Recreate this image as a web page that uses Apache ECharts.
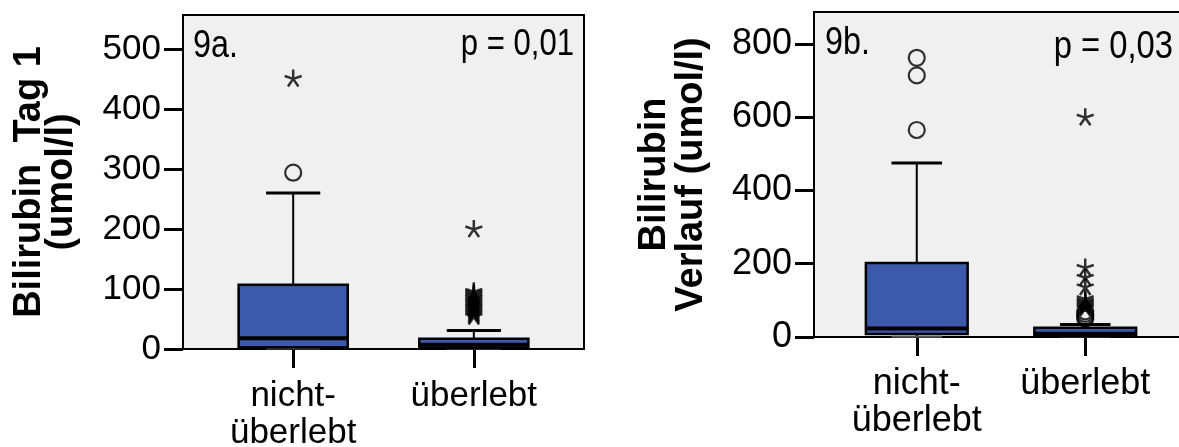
<!DOCTYPE html>
<html>
<head>
<meta charset="utf-8">
<script src="https://cdn.jsdelivr.net/npm/echarts@6/dist/echarts.min.js"></script>
<style>
html,body{margin:0;padding:0;background:#fff;}
#c{width:1179px;height:447px;}
</style>
</head>
<body>
<div id="c"></div>
<script>
// ---------- data ----------
const categories = ['nicht-\nüberlebt', 'überlebt'];
const yTicksA = [0, 100, 200, 300, 400, 500];
const yTicksB = [0, 200, 400, 600, 800];
// [category position, low whisker, q1, median, q3, high whisker]
const boxesA = [
  [1, 1, 3, 18, 107, 260],
  [2, 1, 2, 7, 17, 31]
];
const boxesB = [
  [1, 1, 8, 23, 202, 475],
  [2, 1, 2, 9, 25, 34]
];
const circlesA = [[1, 294]];
const starsA = [
  [1, 452], [2, 201],
  [2, 97], [2, 94], [2, 91], [2, 88], [2, 85], [2, 82], [2, 79], [2, 76],
  [2, 73], [2, 70], [2, 67], [2, 64], [2, 61], [2, 58], [2, 55]
];
const circlesB = [[1, 762], [1, 714], [1, 565], [2, 70], [2, 63], [2, 56], [2, 50]];
const starsB = [
  [2, 601], [2, 191], [2, 164], [2, 138],
  [2, 106], [2, 100], [2, 95], [2, 90], [2, 85], [2, 80]
];
const panelLabels = ['9a.', '9b.'];
const pValues = ['p = 0,01', 'p = 0,03'];
const yTitles = ['Bilirubin  Tag 1\n(umol/l)', 'Bilirubin\nVerlauf (umol/l)'];

// ---------- style ----------
const LAB = '"Liberation Sans", Arial, sans-serif';
const BLUE = '#3d59ab';
const BOX_W = 0.604;
const CAP_W = 0.30;
const STAR = 'path://M0,0L0,-1M0,0L0.951,-0.309M0,0L0.588,0.809M0,0L-0.588,0.809M0,0L-0.951,-0.309';

function renderBox(params, api) {
  const x = api.value(0);
  const pLow = api.coord([x, api.value(1)]);
  const pQ1 = api.coord([x, api.value(2)]);
  const pMed = api.coord([x, api.value(3)]);
  const pQ3 = api.coord([x, api.value(4)]);
  const pHigh = api.coord([x, api.value(5)]);
  const hb = api.size([BOX_W, 0])[0] / 2;
  const hc = api.size([CAP_W, 0])[0] / 2;
  const cx = pMed[0];
  const ls = {stroke: '#000', lineWidth: 2};
  return {
    type: 'group',
    children: [
      {type: 'line', shape: {x1: cx, y1: pQ3[1], x2: cx, y2: pHigh[1]}, style: ls},
      {type: 'line', shape: {x1: cx - hc, y1: pHigh[1], x2: cx + hc, y2: pHigh[1]}, style: {stroke: '#000', lineWidth: 3}},
      {type: 'line', shape: {x1: cx, y1: pQ1[1], x2: cx, y2: pLow[1]}, style: ls},
      {type: 'line', shape: {x1: cx - hc, y1: pLow[1], x2: cx + hc, y2: pLow[1]}, style: {stroke: '#555', lineWidth: 2}},
      {type: 'rect', shape: {x: cx - hb, y: pQ3[1], width: 2 * hb, height: pQ1[1] - pQ3[1]},
        style: {fill: BLUE, stroke: '#000', lineWidth: 2.5}},
      {type: 'line', shape: {x1: cx - hb, y1: pMed[1], x2: cx + hb, y2: pMed[1]}, style: {stroke: '#000', lineWidth: 4}}
    ]
  };
}

function yAxis(idx, max, ticks, title, gap, lh, fs) {
  return {
    type: 'value', gridIndex: idx, min: 0, max: max,
    axisLine: {show: true, lineStyle: {color: '#000', width: 2}},
    axisTick: {show: true, length: 19, lineStyle: {color: '#000', width: 3}, customValues: ticks},
    axisLabel: {customValues: ticks, margin: 22, color: '#000', fontFamily: LAB, fontSize: fs},
    splitLine: {show: false},
    name: title, nameLocation: 'middle', nameRotate: 90, nameGap: gap,
    nameTextStyle: {fontFamily: LAB, fontWeight: 'bold', fontSize: 38, color: '#000', lineHeight: lh}
  };
}
function xAxis(idx, fs, margin) {
  return {
    type: 'value', gridIndex: idx, min: 0.39, max: 2.61,
    axisLine: {show: true, onZero: false, lineStyle: {color: '#000', width: 2}},
    axisTick: {show: true, length: 19, lineStyle: {color: '#000', width: 3}, customValues: [1, 2]},
    axisLabel: {customValues: [1, 2], margin: margin, color: '#000', fontFamily: LAB, fontSize: fs, lineHeight: 37,
      formatter: v => categories[Math.round(v) - 1]},
    splitLine: {show: false}
  };
}

const chart = echarts.init(document.getElementById('c'), null, {renderer: 'canvas'});
chart.setOption({
  animation: false,
  backgroundColor: '#fff',
  grid: [
    {left: 183, top: 15, width: 401, height: 334, containLabel: false, outerBoundsMode: 'none',
      show: true, backgroundColor: '#f0f0f0', borderColor: '#000', borderWidth: 2},
    {left: 814, top: 12, width: 374, height: 325, containLabel: false, outerBoundsMode: 'none',
      show: true, backgroundColor: '#f0f0f0', borderColor: '#000', borderWidth: 2}
  ],
  xAxis: [xAxis(0, 35, 29), xAxis(1, 36, 29)],
  yAxis: [
    yAxis(0, 557, yTicksA, yTitles[0], 105, 32, 35),
    yAxis(1, 887, yTicksB, yTitles[1], 104, 37, 36)
  ],
  graphic: [
    {type: 'text', x: 193, y: 47, scaleX: 0.85, style: {text: panelLabels[0], font: '38px ' + LAB, fill: '#000', textVerticalAlign: 'middle'}},
    {type: 'text', x: 574, y: 45, scaleX: 0.84, style: {text: pValues[0], font: '37px ' + LAB, fill: '#000', textAlign: 'right', textVerticalAlign: 'middle'}},
    {type: 'text', x: 825, y: 44, scaleX: 0.85, style: {text: panelLabels[1], font: '38px ' + LAB, fill: '#000', textVerticalAlign: 'middle'}},
    {type: 'text', x: 1173, y: 47, scaleX: 0.84, style: {text: pValues[1], font: '39px ' + LAB, fill: '#000', textAlign: 'right', textVerticalAlign: 'middle'}}
  ],
  series: [
    {type: 'custom', xAxisIndex: 0, yAxisIndex: 0, renderItem: renderBox, data: boxesA, z: 3},
    {type: 'custom', xAxisIndex: 1, yAxisIndex: 1, renderItem: renderBox, data: boxesB, z: 3},
    {type: 'scatter', xAxisIndex: 0, yAxisIndex: 0, data: circlesA, symbol: 'circle', symbolSize: 16,
      itemStyle: {color: 'transparent', borderColor: '#000', borderWidth: 2.2}, z: 4},
    {type: 'scatter', xAxisIndex: 0, yAxisIndex: 0, data: starsA, symbol: STAR, symbolSize: 17,
      itemStyle: {color: 'transparent', borderColor: '#000', borderWidth: 2.5}, z: 4},
    {type: 'scatter', xAxisIndex: 1, yAxisIndex: 1, data: circlesB, symbol: 'circle', symbolSize: 16,
      itemStyle: {color: 'transparent', borderColor: '#000', borderWidth: 2.2}, z: 4},
    {type: 'scatter', xAxisIndex: 1, yAxisIndex: 1, data: starsB, symbol: STAR, symbolSize: 17,
      itemStyle: {color: 'transparent', borderColor: '#000', borderWidth: 2.5}, z: 4}
  ]
});
</script>
</body>
</html>
